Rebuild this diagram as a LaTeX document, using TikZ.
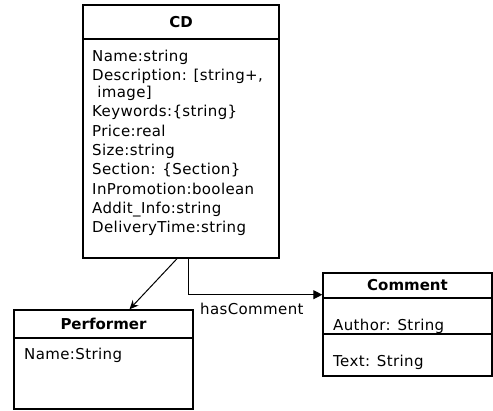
\documentclass[tikz,border=0pt]{standalone}
\usepackage{fontspec}
\setmainfont[LetterSpace=2.5, BoldFeatures={LetterSpace=0}]{DejaVu Sans}
\usetikzlibrary{arrows.meta}

\tikzset{
  classbox/.style={draw, line width=1.4pt, inner sep=0pt},
  headtext/.style={font=\fontsize{15}{17}\selectfont\bfseries},
  attrtext/.style={font=\fontsize{15}{19.3}\selectfont, inner sep=0pt, align=left},
  assoc/.style={line width=1pt}
}

\begin{document}
\begin{tikzpicture}[x=1pt, y=-1pt]

\useasboundingbox (0,0) rectangle (493,411);

%========================
% CD
%========================
\node[classbox, minimum width=196pt, minimum height=34pt, headtext] (cdhead) at (181,22) {CD};
\node[classbox, minimum width=196pt, minimum height=219pt] (cdbody) at (181,148.5) {};
\node[attrtext, anchor=north west] (cdattr) at (92,50) {Name:string\\
Description: [string+,\\[-2.6pt]
\ image]\\
Keywords:\{string\}\\
Price:real\\
Size:string\\
Section: \{Section\}\\
InPromotion:boolean\\
Addit\_Info:string\\
DeliveryTime:string};

%========================
% Performer
%========================
\node[classbox, minimum width=179pt, minimum height=28pt, headtext] (perfhead) at (103.5,324) {Performer};
\node[classbox, minimum width=179pt, minimum height=71pt] (perfbody) at (103.5,373.5) {};
\node[attrtext, anchor=base west] (perfattr) at (24,360) {Name:String};

%========================
% Comment
%========================
\node[classbox, minimum width=169pt, minimum height=25pt, headtext] (commhead) at (407.5,285.5) {Comment};
\node[classbox, minimum width=169pt, minimum height=36pt] (commbody) at (407.5,316) {};
\node[classbox, minimum width=169pt, minimum height=42pt] (commtext) at (407.5,355) {};
\node[attrtext, anchor=base west] (commauthor) at (333,331) {Author: String};
\node[attrtext, anchor=base west] (commtextattr) at (333,367) {Text: String};

%========================
% connectors
%========================
\draw[assoc, -{Stealth[length=9pt, width=8pt]}] ([xshift=-4pt]cdbody.south) -- ([xshift=26pt]perfhead.north);
\draw[assoc, -{Triangle[length=9pt, width=9pt]}] ([xshift=7pt]cdbody.south) |- ([yshift=4pt]commhead.south west);
\node[attrtext, anchor=base west] (hascomm) at (200,315) {hasComment};

\end{tikzpicture}
\end{document}
